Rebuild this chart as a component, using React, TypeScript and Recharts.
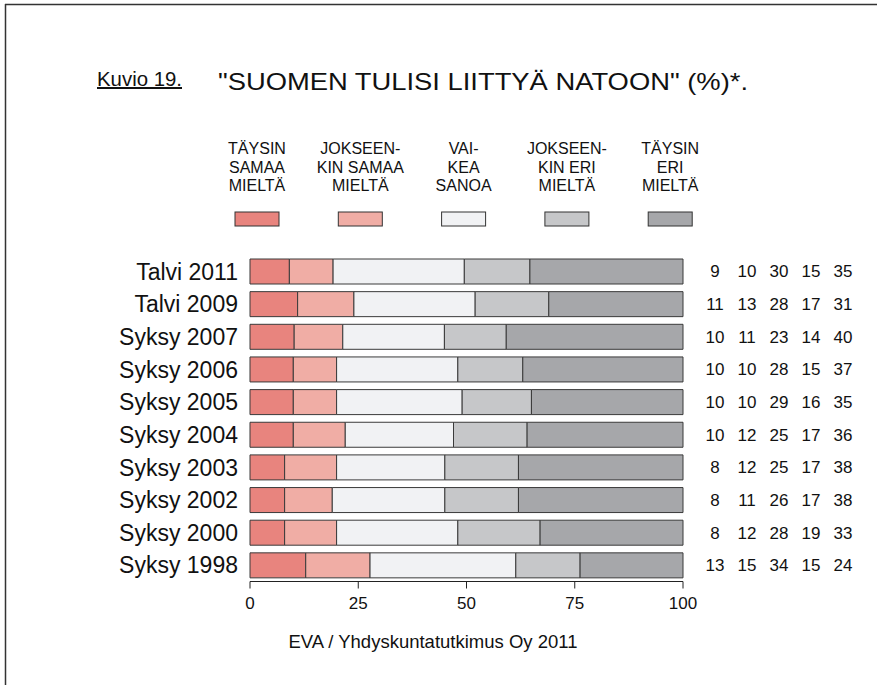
import { BarChart, Bar, XAxis, YAxis } from 'recharts';

const categories = [
  'Talvi 2011',
  'Talvi 2009',
  'Syksy 2007',
  'Syksy 2006',
  'Syksy 2005',
  'Syksy 2004',
  'Syksy 2003',
  'Syksy 2002',
  'Syksy 2000',
  'Syksy 1998',
];

const taysinSamaa = [9, 11, 10, 10, 10, 10, 8, 8, 8, 13];
const jokseenkinSamaa = [10, 13, 11, 10, 10, 12, 12, 11, 12, 15];
const vaikeaSanoa = [30, 28, 23, 28, 29, 25, 25, 26, 28, 34];
const jokseenkinEri = [15, 17, 14, 15, 16, 17, 17, 17, 19, 15];
const taysinEri = [35, 31, 40, 37, 35, 36, 38, 38, 33, 24];

const xTicks = [0, 25, 50, 75, 100];

const series = [
  { key: 'ts', values: taysinSamaa, color: '#E8847E', label: ['TÄYSIN', 'SAMAA', 'MIELTÄ'] },
  { key: 'js', values: jokseenkinSamaa, color: '#F0ADA5', label: ['JOKSEEN-', 'KIN SAMAA', 'MIELTÄ'] },
  { key: 'vs', values: vaikeaSanoa, color: '#F1F2F4', label: ['VAI-', 'KEA', 'SANOA'] },
  { key: 'je', values: jokseenkinEri, color: '#C6C7C9', label: ['JOKSEEN-', 'KIN ERI', 'MIELTÄ'] },
  { key: 'te', values: taysinEri, color: '#A6A7AA', label: ['TÄYSIN', 'ERI', 'MIELTÄ'] },
];

// bars are scaled to fill 100 (the printed numbers are rounded)
const data = categories.map((name, i) => {
  const total = series.reduce((s, ser) => s + ser.values[i], 0);
  const row: Record<string, any> = { name };
  series.forEach((ser) => {
    row[ser.key] = (ser.values[i] / total) * 100;
  });
  return row;
});

const FONT = '"Liberation Sans", Arial, sans-serif';
const valueCols = [715, 747, 779, 811, 843];
const legendCenters = [257, 360.3, 463.6, 566.9, 670.2];

const RowTick = (props: any) => {
  const { y, payload } = props;
  const i = categories.indexOf(payload.value);
  return (
    <g>
      <text x={238} y={y} dy="0.36em" textAnchor="end" fontSize={23} fill="#111" fontFamily={FONT}>
        {payload.value}
      </text>
      {series.map((ser, k) => (
        <text key={ser.key} x={valueCols[k]} y={y} dy="0.36em" textAnchor="middle" fontSize={17} fill="#111" fontFamily={FONT}>
          {ser.values[i]}
        </text>
      ))}
    </g>
  );
};

export default function App() {
  return (
    <div style={{ position: 'absolute', left: 0, top: 0, width: 877, height: 685, background: '#fff' }}>
      <svg width={877} height={685} style={{ position: 'absolute', left: 0, top: 0 }}>
        <line x1={5} y1={4.5} x2={877} y2={4.5} stroke="#333" strokeWidth={1.5} />
        <line x1={5.5} y1={4} x2={5.5} y2={685} stroke="#333" strokeWidth={1.5} />
        <text x={97} y={86} fontSize={20} fill="#111" fontFamily={FONT} textDecoration="underline" textLength={85} lengthAdjust="spacingAndGlyphs">
          Kuvio 19.
        </text>
        <text x={218} y={89.5} fontSize={24} fill="#111" fontFamily={FONT} textLength={530} lengthAdjust="spacingAndGlyphs">
          "SUOMEN TULISI LIITTYÄ NATOON" (%)*.
        </text>
        {series.map((ser, k) => (
          <g key={ser.key}>
            {ser.label.map((line, j) => (
              <text key={j} x={legendCenters[k]} y={154 + j * 18.7} textAnchor="middle" fontSize={16} fill="#111" fontFamily={FONT}>
                {line}
              </text>
            ))}
            <rect x={legendCenters[k] - 22} y={212} width={44} height={14} fill={ser.color} stroke="#333" strokeWidth={1} />
          </g>
        ))}
        <text x={433} y={648} textAnchor="middle" fontSize={18.5} fill="#111" fontFamily={FONT}>
          EVA / Yhdyskuntatutkimus Oy 2011
        </text>
      </svg>
      <div style={{ position: 'absolute', left: 0, top: 0 }}>
        <BarChart
          width={877}
          height={685}
          data={data}
          layout="vertical"
          margin={{ top: 255, right: 194, bottom: 63.5, left: 0 }}
          barSize={25}
        >
          <XAxis
            type="number"
            domain={[0, 100]}
            ticks={xTicks}
            height={40}
            tickSize={7}
            tickMargin={8}
            stroke="#222"
            tick={{ fontSize: 17, fill: '#111', fontFamily: FONT }}
            interval={0}
          />
          <YAxis
            type="category"
            dataKey="name"
            width={250}
            axisLine={false}
            tickLine={false}
            tick={<RowTick />}
            interval={0}
          />
          {series.map((ser) => (
            <Bar
              key={ser.key}
              dataKey={ser.key}
              stackId="a"
              fill={ser.color}
              stroke="#3a3a3a"
              strokeWidth={1}
              isAnimationActive={false}
            />
          ))}
        </BarChart>
      </div>
    </div>
  );
}
